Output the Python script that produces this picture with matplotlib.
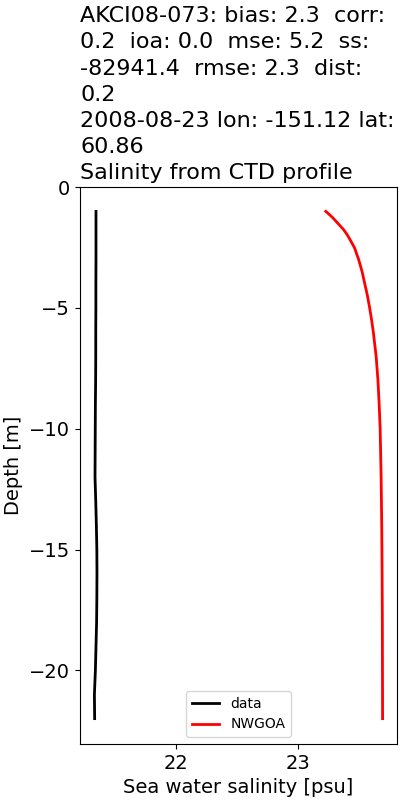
import numpy as np
import matplotlib
matplotlib.use("Agg")
import matplotlib.pyplot as plt

# CTD profile (data) and model (NWGOA) salinity vs depth
data_depth = [-1, -2, -3, -4, -5, -6, -7, -8, -9, -10, -11, -12, -13, -14,
              -15, -16, -17, -18, -19, -20, -21, -22]
data_sal = [21.345, 21.345, 21.345, 21.344, 21.344, 21.343, 21.343, 21.342,
            21.340, 21.339, 21.338, 21.337, 21.343, 21.348, 21.352, 21.353,
            21.352, 21.350, 21.345, 21.340, 21.332, 21.334]

model_depth = [-1, -1.25, -1.5, -1.75, -2, -2.5, -3, -3.5, -4, -4.5, -5,
               -5.5, -6, -7, -8, -9, -10, -12, -14, -16, -18, -20, -22]
model_sal = [23.23, 23.285, 23.33, 23.375, 23.41, 23.465, 23.50, 23.528,
             23.55, 23.572, 23.59, 23.606, 23.62, 23.643, 23.658, 23.668,
             23.676, 23.684, 23.689, 23.692, 23.694, 23.695, 23.696]

title = ("AKCI08-073: bias: 2.3  corr:\n0.2  ioa: 0.0  mse: 5.2  ss:\n"
         "-82941.4  rmse: 2.3  dist:\n0.2\n"
         "2008-08-23 lon: -151.12 lat:\n60.86\nSalinity from CTD profile")


def main():
    fig, ax = plt.subplots(figsize=(4, 8), dpi=100)
    fig.subplots_adjust(left=0.2, right=0.9925, top=0.766, bottom=0.07)

    ax.plot(data_sal, data_depth, c="black", lw=2, label="data")
    ax.plot(model_sal, model_depth, c="red", lw=2, label="NWGOA")

    ax.set_ylim(top=0)
    ax.set_yticks([0, -5, -10, -15, -20])
    ax.set_xticks([22, 23])
    ax.tick_params(labelsize=14)
    ax.set_xlabel("Sea water salinity [psu]", fontsize=14)
    ax.set_ylabel("Depth [m]", fontsize=14)
    ax.set_title(title, loc="left", fontsize=16, linespacing=1.38)
    ax.legend(loc="lower center", fontsize=10)

    fig.savefig("out.png")


if __name__ == "__main__":
    main()
